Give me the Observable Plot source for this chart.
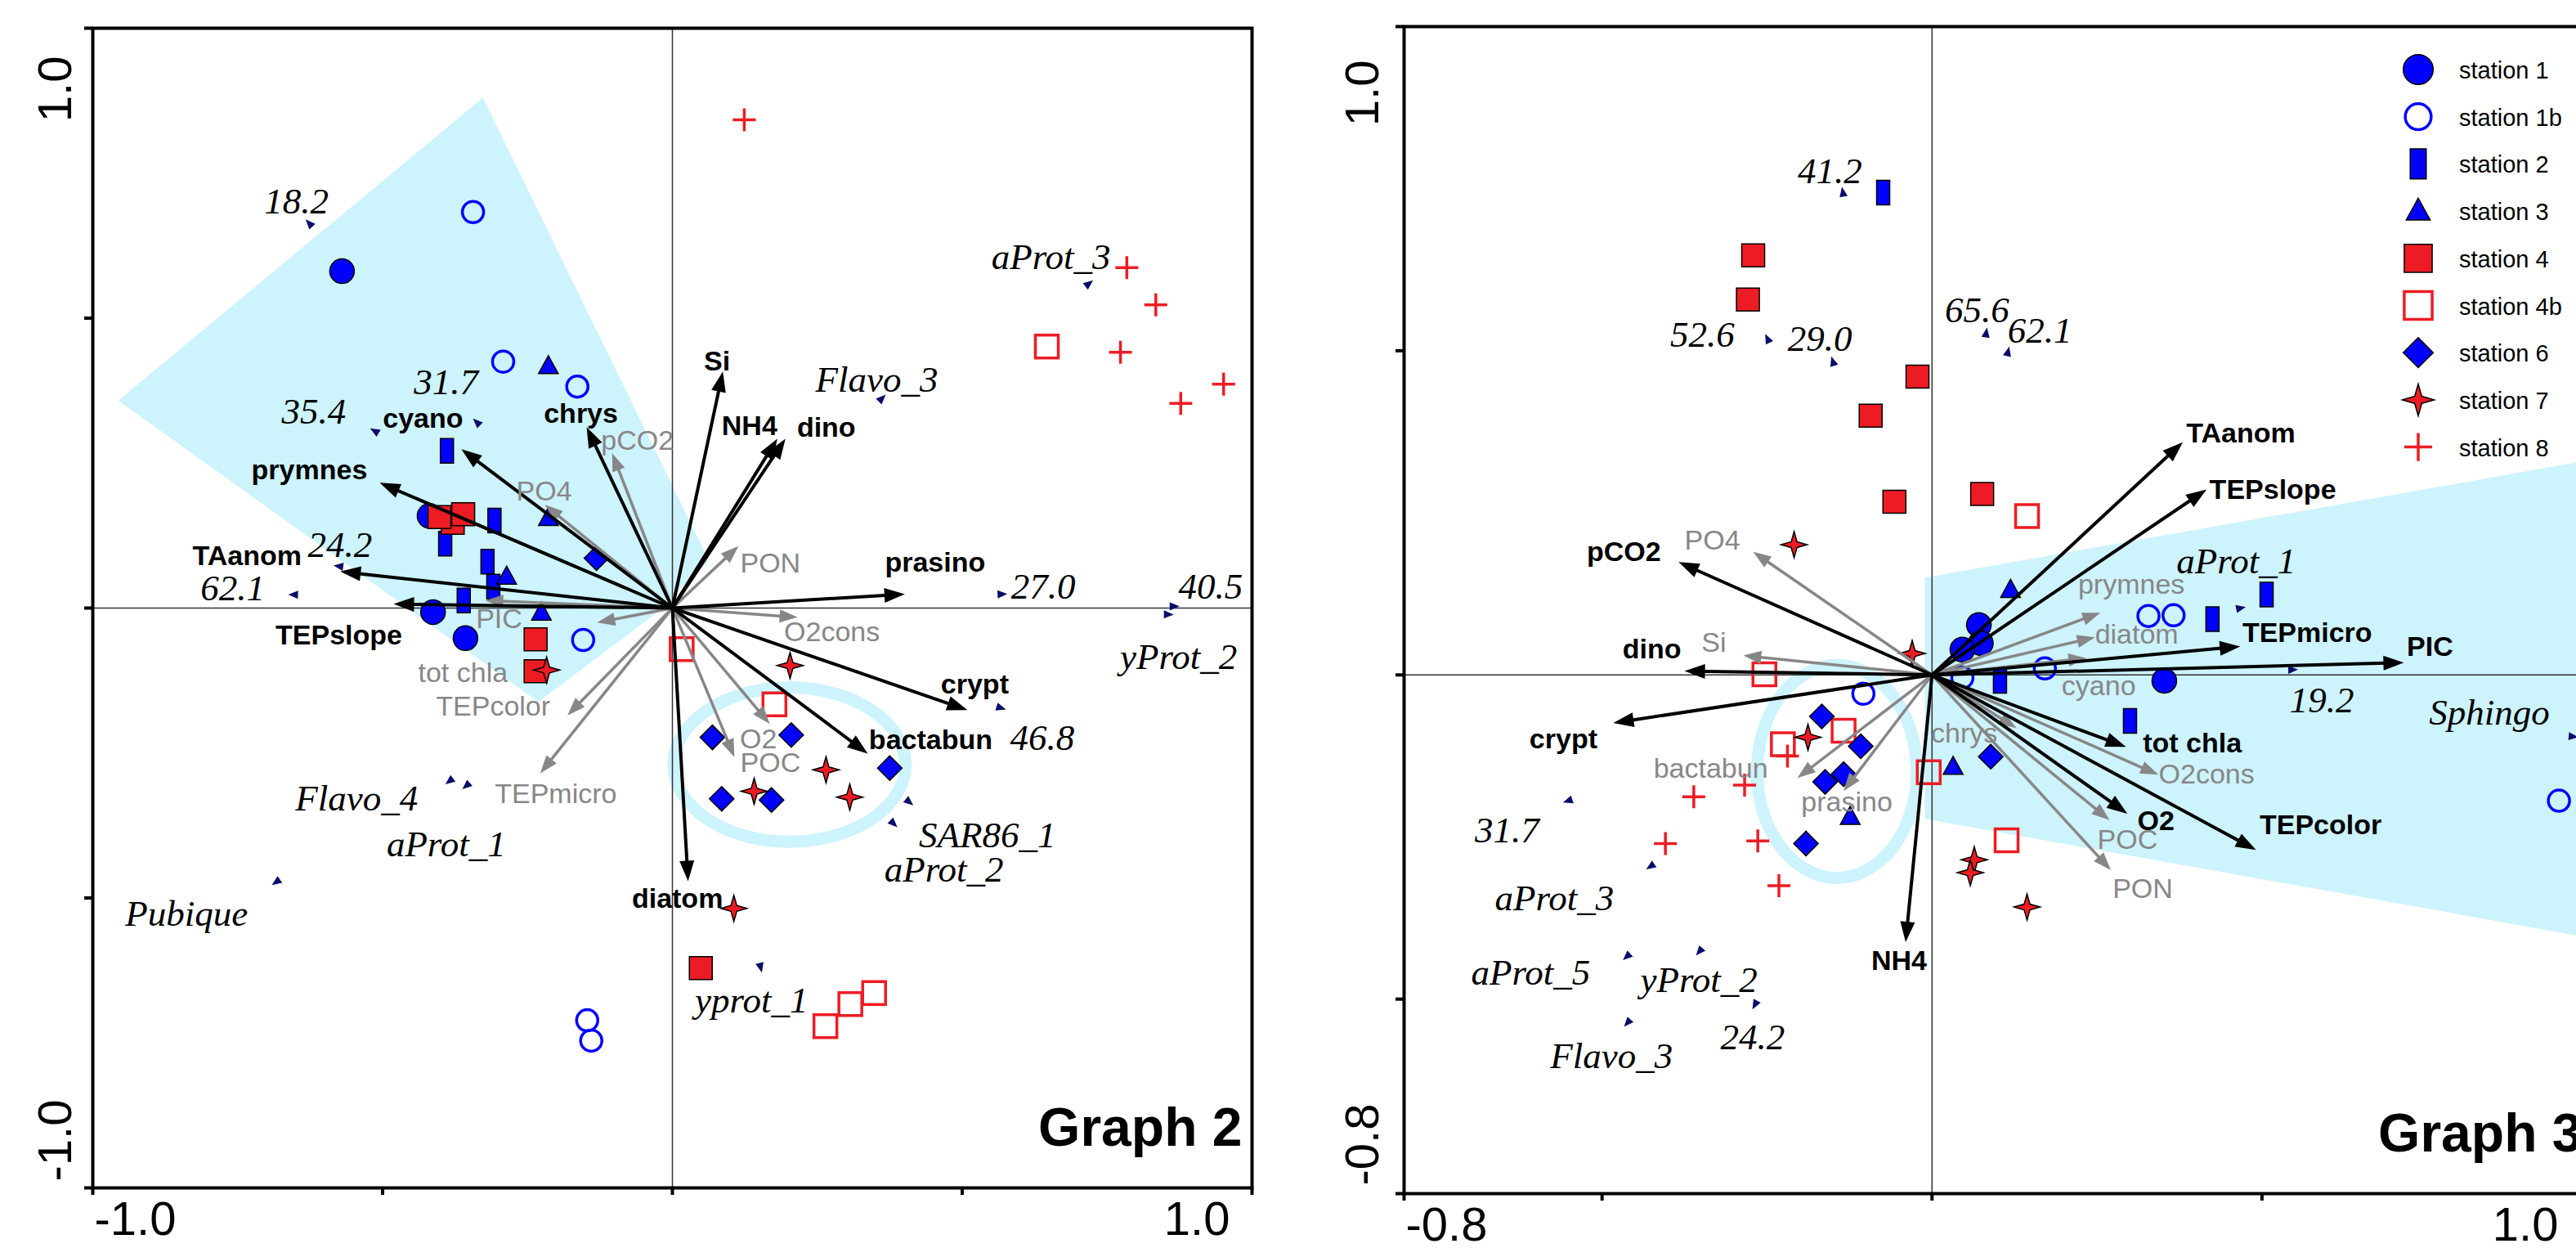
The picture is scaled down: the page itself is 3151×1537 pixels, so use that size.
<!DOCTYPE html>
<html><head><meta charset="utf-8">
<script src="https://cdn.jsdelivr.net/npm/d3@7"></script>
<script src="https://cdn.jsdelivr.net/npm/@observablehq/plot@0.6"></script>
<style>
html,body{margin:0;padding:0;background:#fff;overflow:hidden;}
#wrap{position:relative;width:3151px;height:1537px;overflow:hidden;background:#fff;}
#g2{position:absolute;left:0;top:0;width:1560px;height:1537px;}
#g3{position:absolute;left:1560px;top:0;width:1640px;height:1537px;}
#g2 svg,#g3 svg{max-width:none !important;}
#legend{position:absolute;left:2900px;top:40px;width:251px;height:560px;}
</style></head><body><div id="wrap"><div id="g2"></div><div id="g3"></div><div id="legend"></div></div>
<script>
// ---------------- DATA ----------------
const stations = ["station 1","station 1b","station 2","station 3","station 4","station 4b","station 6","station 7","station 8"];

// Graph 2 sample scores [station, axis1, axis2]
const g2Samples = [
  ["station 1",-0.570,0.581],["station 1",-0.419,0.159],["station 1",-0.413,-0.007],["station 1",-0.357,-0.052],
  ["station 1b",-0.344,0.683],["station 1b",-0.292,0.425],["station 1b",-0.164,0.382],["station 1b",-0.154,-0.055],["station 1b",-0.147,-0.711],["station 1b",-0.140,-0.746],
  ["station 2",-0.389,0.271],["station 2",-0.307,0.151],["station 2",-0.392,0.111],["station 2",-0.319,0.080],["station 2",-0.309,0.037],["station 2",-0.360,0.013],
  ["station 3",-0.214,0.417],["station 3",-0.214,0.155],["station 3",-0.286,0.054],["station 3",-0.226,-0.008],
  ["station 4",-0.379,0.147],["station 4",-0.402,0.157],["station 4",-0.361,0.162],["station 4",-0.236,-0.054],["station 4",-0.236,-0.109],["station 4",0.049,-0.621],
  ["station 4b",0.016,-0.071],["station 4b",0.176,-0.166],["station 4b",0.646,0.451],["station 4b",0.264,-0.721],["station 4b",0.307,-0.683],["station 4b",0.348,-0.664],
  ["station 6",-0.131,0.086],["station 6",0.069,-0.223],["station 6",0.205,-0.219],["station 6",0.375,-0.276],["station 6",0.085,-0.329],["station 6",0.171,-0.331],
  ["station 7",-0.217,-0.107],["station 7",0.203,-0.099],["station 7",0.265,-0.279],["station 7",0.141,-0.316],["station 7",0.306,-0.326],["station 7",0.106,-0.518],
  ["station 8",0.124,0.842],["station 8",0.784,0.587],["station 8",0.834,0.523],["station 8",0.773,0.441],["station 8",0.951,0.386],["station 8",0.877,0.353]
];
// Graph 2 variable vectors [name, axis1, axis2, role] (E = explanatory, S = supplementary)
const g2Vectors = [
  ["prymnes",-0.505,0.216,"E"],["cyano",-0.364,0.274,"E"],["chrys",-0.148,0.312,"E"],["TAanom",-0.573,0.063,"E"],
  ["TEPslope",-0.481,0.007,"E"],["Si",0.087,0.408,"E"],["NH4",0.181,0.292,"E"],["dino",0.195,0.292,"E"],
  ["prasino",0.401,0.024,"E"],["crypt",0.509,-0.176,"E"],["bactabun",0.337,-0.251,"E"],["diatom",0.027,-0.471,"E"],
  ["pCO2",-0.104,0.267,"S"],["PO4",-0.220,0.178,"S"],["PON",0.114,0.107,"S"],["O2cons",0.216,-0.016,"S"],
  ["PIC",-0.323,0.013,"S"],["tot chla",-0.130,-0.025,"S"],["TEPcolor",-0.181,-0.185,"S"],["TEPmicro",-0.228,-0.285,"S"],
  ["O2",0.168,-0.200,"S"],["POC",0.107,-0.257,"S"]
];
// Graph 2 bacterial taxa [name, axis1, axis2]
const g2Species = [
  ["18.2",-0.626,0.663],["35.4",-0.513,0.305],["31.7",-0.337,0.320],["24.2",-0.575,0.072],["62.1",-0.653,0.023],
  ["aProt_3",0.718,0.559],["Flavo_3",0.361,0.361],["27.0",0.568,0.024],["40.5",0.865,0.003],["yProt_2",0.855,-0.011],
  ["46.8",0.566,-0.172],["SAR86_1",0.408,-0.334],["aProt_2",0.381,-0.371],["yprot_1",0.152,-0.619],
  ["Flavo_4",-0.384,-0.298],["aProt_1",-0.355,-0.306],["Pubique",-0.683,-0.472]
];
const g2Group = [[-0.327,0.880],[0.063,0.082],[-0.031,-0.011],[-0.231,-0.162],[-0.956,0.358]];
const g2Cluster = [0.202,-0.270,0.200,0.133]; // centre x, centre y, radius x, radius y

// Graph 3
const g3Samples = [
  ["station 1",0.071,0.077],["station 1",0.074,0.049],["station 1",0.046,0.039],["station 1",0.352,-0.009],
  ["station 1b",0.328,0.091],["station 1b",0.366,0.092],["station 1b",0.171,0.010],["station 1b",-0.104,-0.029],["station 1b",0.046,-0.004],["station 1b",0.950,-0.194],
  ["station 2",-0.074,0.744],["station 2",0.507,0.124],["station 2",0.425,0.086],["station 2",0.103,-0.009],["station 2",0.300,-0.071],
  ["station 3",0.119,0.131],["station 3",0.032,-0.142],["station 3",-0.124,-0.219],
  ["station 4",-0.271,0.647],["station 4",-0.279,0.579],["station 4",-0.022,0.460],["station 4",-0.093,0.400],["station 4",-0.057,0.267],["station 4",0.076,0.279],
  ["station 4b",0.144,0.245],["station 4b",-0.254,0.001],["station 4b",-0.134,-0.086],["station 4b",-0.226,-0.107],["station 4b",-0.005,-0.150],["station 4b",0.113,-0.255],
  ["station 6",-0.167,-0.064],["station 6",-0.108,-0.110],["station 6",-0.134,-0.153],["station 6",-0.162,-0.165],["station 6",0.089,-0.126],["station 6",-0.191,-0.260],
  ["station 7",-0.209,0.201],["station 7",-0.030,0.033],["station 7",-0.188,-0.096],["station 7",0.064,-0.285],["station 7",0.058,-0.305],["station 7",0.144,-0.358],
  ["station 8",-0.219,-0.125],["station 8",-0.284,-0.170],["station 8",-0.361,-0.188],["station 8",-0.404,-0.260],["station 8",-0.264,-0.256],["station 8",-0.232,-0.325]
];
const g3Vectors = [
  ["TAanom",0.380,0.359,"E"],["TEPslope",0.416,0.286,"E"],["pCO2",-0.384,0.174,"E"],["dino",-0.375,0.006,"E"],
  ["crypt",-0.483,-0.074,"E"],["NH4",-0.040,-0.412,"E"],["TEPmicro",0.467,0.044,"E"],["PIC",0.715,0.019,"E"],
  ["tot chla",0.294,-0.111,"E"],["O2",0.296,-0.214,"E"],["TEPcolor",0.491,-0.270,"E"],
  ["PO4",-0.271,0.190,"S"],["Si",-0.286,0.030,"S"],["bactabun",-0.204,-0.159,"S"],["prasino",-0.134,-0.179,"S"],
  ["prymnes",0.255,0.096,"S"],["diatom",0.247,0.058,"S"],["cyano",0.234,0.026,"S"],["chrys",0.128,-0.082,"S"],
  ["O2cons",0.343,-0.154,"S"],["POC",0.269,-0.224,"S"],["PON",0.271,-0.301,"S"]
];
const g3Species = [
  ["41.2",-0.135,0.744],["52.6",-0.249,0.518],["29.0",-0.150,0.483],["65.6",0.082,0.527],["62.1",0.115,0.498],
  ["aProt_1",0.467,0.103],["19.2",0.546,0.008],["Sphingo",0.971,-0.095],["31.7",-0.551,-0.194],["aProt_3",-0.426,-0.295],
  ["aProt_5",-0.462,-0.434],["yProt_2",-0.352,-0.426],["24.2",-0.268,-0.508],["Flavo_3",-0.461,-0.536]
];
const g3Group = [[-0.011,0.150],[1.0,0.332],[1.0,-0.406],[-0.011,-0.222]];
const g3Cluster = [-0.144,-0.149,0.121,0.164];

// axis ticks and labels
const g2Ticks = [-1,-0.5,0,0.5,1];
const g3Ticks = [-0.8,-0.5,0,0.5,1];
const g2TickLabels = ["-1.0","1.0"];
const g3TickLabels = ["-0.8","1.0"];

// ---------------- LAYOUT (label nudges, pixels) ----------------
const g2VecNudge = {prymnes:[-86,-15],cyano:[-47,-37],chrys:[-7,-16],pCO2:[31,-15],PO4:[-1,-16],Si:[-7,-12],NH4:[-34,-15],dino:[50,-13],PON:[39,21],O2cons:[42,18],TAanom:[-114,-19],TEPslope:[-67,39],PIC:[17,23],"tot chla":[-164,62],TEPcolor:[-91,-11],TEPmicro:[19,26],O2:[-14,19],POC:[44,7],diatom:[-13,22],bactabun:[77,-16],crypt:[9,-31],prasino:[37,-38]};
const g3VecNudge = {TAanom:[71,-11],TEPslope:[81,1],pCO2:[-67,-12],PO4:[-50,-14],dino:[-40,-26],Si:[-36,-15],crypt:[-61,20],bactabun:[-106,-11],prasino:[4,14],NH4:[-8,23],prymnes:[38,-34],diatom:[51,-3],cyano:[15,34],TEPmicro:[82,-16],PIC:[32,-19],chrys:[-64,7],"tot chla":[81,-4],O2cons:[59,0],O2:[35,9],POC:[22,24],TEPcolor:[79,-30],PON:[39,23]};
const g2SpNudge = {"18.2":[-16,-27],"35.4":[-75,-24],"31.7":[-38,-49],"24.2":[1,-26],"62.1":[-75,-8],aProt_3:[-46,-33],Flavo_3:[-6,-23],"27.0":[51,-9],"40.5":[45,-24],yProt_2:[13,52],"46.8":[51,37],SAR86_1:[96,41],aProt_2:[62,57],yprot_1:[-11,41],Flavo_4:[-114,22],aProt_1:[-25,72],Pubique:[-110,39]};
const g3SpNudge = {"41.2":[-16,-26],"52.6":[-80,-5],"29.0":[-16,-28],"65.6":[-11,-28],"62.1":[39,-26],aProt_1:[-5,-57],"19.2":[36,38],Sphingo:[-102,-29],"31.7":[-75,37],aProt_3:[-118,39],aProt_5:[-118,20],yProt_2:[-1,36],"24.2":[-3,41],Flavo_3:[-20,41]};

// ---------------- STYLES ----------------
const LIGHT = "#cdf3fc", BLUE = "#0000ff", RED = "#ed1c24", GRAY = "#878787", NAVY = "#0b0b6b";
const SANS = "Liberation Sans, Arial, sans-serif", SERIF = "Liberation Serif, Times New Roman, serif";
const STYLE = {
  "station 1":{fill:BLUE,stroke:"#000",sw:1.5}, "station 1b":{fill:"none",stroke:BLUE,sw:3.5},
  "station 2":{fill:BLUE,stroke:"#000",sw:1.5}, "station 3":{fill:BLUE,stroke:"#000",sw:1.5},
  "station 4":{fill:RED,stroke:"#000",sw:1.5}, "station 4b":{fill:"none",stroke:RED,sw:3.5},
  "station 6":{fill:BLUE,stroke:"#000",sw:1.5}, "station 7":{fill:RED,stroke:"#000",sw:1.5},
  "station 8":{fill:"none",stroke:RED,sw:3.5}
};
function symbolFor(st, s = 1) {
  switch (st) {
    case "station 1": return {draw(c){c.moveTo(15*s,0);c.arc(0,0,15*s,0,2*Math.PI);}};
    case "station 1b": return {draw(c){c.moveTo(13*s,0);c.arc(0,0,13*s,0,2*Math.PI);}};
    case "station 2": return {draw(c){c.rect(-8*s,-15*s,16*s,30*s);}};
    case "station 3": return {draw(c){c.moveTo(0,-13*s);c.lineTo(12*s,9*s);c.lineTo(-12*s,9*s);c.closePath();}};
    case "station 4": case "station 4b": return {draw(c){c.rect(-14*s,-14*s,28*s,28*s);}};
    case "station 6": return {draw(c){c.moveTo(0,-15*s);c.lineTo(15*s,0);c.lineTo(0,15*s);c.lineTo(-15*s,0);c.closePath();}};
    case "station 7": return {draw(c){
      const R=16*s, r=5*s;
      for (let i=0;i<8;i++){const a=-Math.PI/2+i*Math.PI/4, rr=i%2?r:R; const px=rr*Math.cos(a), py=rr*Math.sin(a); i?c.lineTo(px,py):c.moveTo(px,py);}
      c.closePath();}};
    case "station 8": return {draw(c){c.moveTo(-14*s,0);c.lineTo(14*s,0);c.moveTo(0,-14*s);c.lineTo(0,14*s);}};
  }
}
const HEAD_E = {draw(c){c.moveTo(0,0);c.lineTo(9,25);c.lineTo(-9,25);c.closePath();}};
const HEAD_S = {draw(c){c.moveTo(0,0);c.lineTo(8,22);c.lineTo(-8,22);c.closePath();}};
const TAXON = {draw(c){c.moveTo(0,-7);c.lineTo(5,5);c.lineTo(-5,5);c.closePath();}};

function panel(cfg) {
  const iw = cfg.width - cfg.ml - cfg.mr, ih = cfg.height - cfg.mt - cfg.mb;
  const kx = iw / (cfg.x[1] - cfg.x[0]), ky = ih / (cfg.y[1] - cfg.y[0]);
  const ang = (x, y) => Math.atan2(x * kx, y * ky) * 180 / Math.PI;
  const cut = (x, y, px) => Math.max(0, 1 - px / Math.hypot(x * kx, y * ky));
  const ringPts = d3.range(0, 360, 3).map(a => {const t = a * Math.PI / 180; return [cfg.ring[0] + cfg.ring[2] * Math.cos(t), cfg.ring[1] + cfg.ring[3] * Math.sin(t)];});
  const marks = [
    Plot.line(cfg.group, {x: d => d[0], y: d => d[1], curve: "linear-closed", fill: LIGHT, stroke: "none"}),
    Plot.line(ringPts, {x: d => d[0], y: d => d[1], curve: "linear-closed", stroke: LIGHT, strokeWidth: 15, fill: "none"}),
    Plot.ruleX([0], {stroke: "#333", strokeWidth: 1.5}),
    Plot.ruleY([0], {stroke: "#333", strokeWidth: 1.5})
  ];
  for (const st of stations) {
    const s = STYLE[st];
    marks.push(Plot.dot(cfg.samples.filter(d => d[0] === st), {x: d => d[1], y: d => d[2], symbol: symbolFor(st), r: 10, fill: s.fill, stroke: s.stroke, strokeWidth: s.sw}));
  }
  marks.push(Plot.dot(cfg.species, {x: d => d[1], y: d => d[2], symbol: TAXON, r: 4, fill: NAVY, stroke: "none", rotate: d => ang(d[1], d[2])}));
  marks.push(Plot.text(cfg.species, {x: d => d[1] + cfg.spNudge[d[0]][0] / kx, y: d => d[2] - cfg.spNudge[d[0]][1] / ky, text: d => d[0], fontFamily: SERIF, fontStyle: "italic", fontSize: 45, fill: "#000"}));
  for (const role of ["S", "E"]) {
    const vs = cfg.vectors.filter(d => d[3] === role);
    const col = role === "E" ? "#000" : GRAY;
    marks.push(Plot.link(vs, {x1: () => 0, y1: () => 0, x2: d => d[1] * cut(d[1], d[2], 12), y2: d => d[2] * cut(d[1], d[2], 12), stroke: col, strokeWidth: role === "E" ? 4 : 3.5}));
    marks.push(Plot.dot(vs, {x: d => d[1], y: d => d[2], symbol: role === "E" ? HEAD_E : HEAD_S, r: 5, fill: col, stroke: "none", rotate: d => ang(d[1], d[2])}));
  }
  for (const role of ["S", "E"]) {
    const vs = cfg.vectors.filter(d => d[3] === role);
    marks.push(Plot.text(vs, {x: d => d[1] + cfg.vecNudge[d[0]][0] / kx, y: d => d[2] - cfg.vecNudge[d[0]][1] / ky, text: d => d[0], fontFamily: SANS, fontSize: 34, fontWeight: role === "E" ? "bold" : "normal", fill: role === "E" ? "#000" : GRAY}));
  }
  marks.push(
    Plot.frame({stroke: "#000", strokeWidth: 4}),
    Plot.axisY(cfg.ticks, {anchor: "left", tickSize: 10, strokeWidth: 4, tickFormat: () => "", label: null}),
    Plot.axisX(cfg.ticks, {anchor: "bottom", tickSize: 9, strokeWidth: 4, tickFormat: () => "", label: null}),
    Plot.text([cfg.x[0]], {x: d => d, frameAnchor: "bottom", text: () => cfg.tickLabels[0], textAnchor: "start", dx: 2, dy: 57, fontFamily: SANS, fontSize: 58, fill: "#000"}),
    Plot.text([cfg.x[1]], {x: d => d, frameAnchor: "bottom", text: () => cfg.tickLabels[1], textAnchor: "end", dx: cfg.xEndDx, dy: 57, fontFamily: SANS, fontSize: 58, fill: "#000"}),
    Plot.text([cfg.y[1]], {y: d => d, frameAnchor: "left", text: () => cfg.tickLabels[1], textAnchor: "end", rotate: -90, dx: cfg.yDx, dy: cfg.yTopDy, fontFamily: SANS, fontSize: 58, fill: "#000"}),
    Plot.text([cfg.y[0]], {y: d => d, frameAnchor: "left", text: () => cfg.tickLabels[0], textAnchor: "start", rotate: -90, dx: cfg.yDx, dy: cfg.yBotDy, fontFamily: SANS, fontSize: 58, fill: "#000"}),
    Plot.text([cfg.title], {frameAnchor: "bottom-right", textAnchor: "end", dx: -12, dy: -52, fontFamily: SANS, fontSize: 66, fontWeight: "bold", fill: "#000"})
  );
  return Plot.plot({
    width: cfg.width, height: cfg.height,
    marginLeft: cfg.ml, marginRight: cfg.mr, marginTop: cfg.mt, marginBottom: cfg.mb,
    x: {domain: cfg.x}, y: {domain: cfg.y},
    style: {background: "transparent", fontFamily: SANS, overflow: "visible"},
    marks
  });
}

document.getElementById("g2").append(panel({
  width: 1560, height: 1537, ml: 113, mr: 29, mt: 34, mb: 85, x: [-1, 1], y: [-1, 1],
  samples: g2Samples, vectors: g2Vectors, species: g2Species, group: g2Group, ring: g2Cluster,
  vecNudge: g2VecNudge, spNudge: g2SpNudge, ticks: g2Ticks, tickLabels: g2TickLabels,
  xEndDx: -27, yDx: -45, yTopDy: 34, yBotDy: -8, title: "Graph 2"
}));
document.getElementById("g3").append(panel({
  width: 1640, height: 1537, ml: 157, mr: 30, mt: 32, mb: 78, x: [-0.8, 1.0], y: [-0.8, 1.0],
  samples: g3Samples, vectors: g3Vectors, species: g3Species, group: g3Group, ring: g3Cluster,
  vecNudge: g3VecNudge, spNudge: g3SpNudge, ticks: g3Ticks, tickLabels: g3TickLabels,
  xEndDx: -41, yDx: -50, yTopDy: 41, yBotDy: -10, title: "Graph 3"
}));

// legend
const leg = d3.select("#legend").append("svg").attr("width", 251).attr("height", 560);
stations.forEach((st, i) => {
  const cy = 45 + 57.7 * i, s = STYLE[st];
  leg.append("path").attr("d", d3.symbol(symbolFor(st, 1.22), 64)())
    .attr("transform", `translate(58,${cy})`)
    .attr("fill", s.fill).attr("stroke", s.stroke).attr("stroke-width", s.sw);
  leg.append("text").attr("x", 108).attr("y", cy + 11).attr("font-family", SANS).attr("font-size", 29).attr("fill", "#000").text(st);
});
</script>
</body></html>
